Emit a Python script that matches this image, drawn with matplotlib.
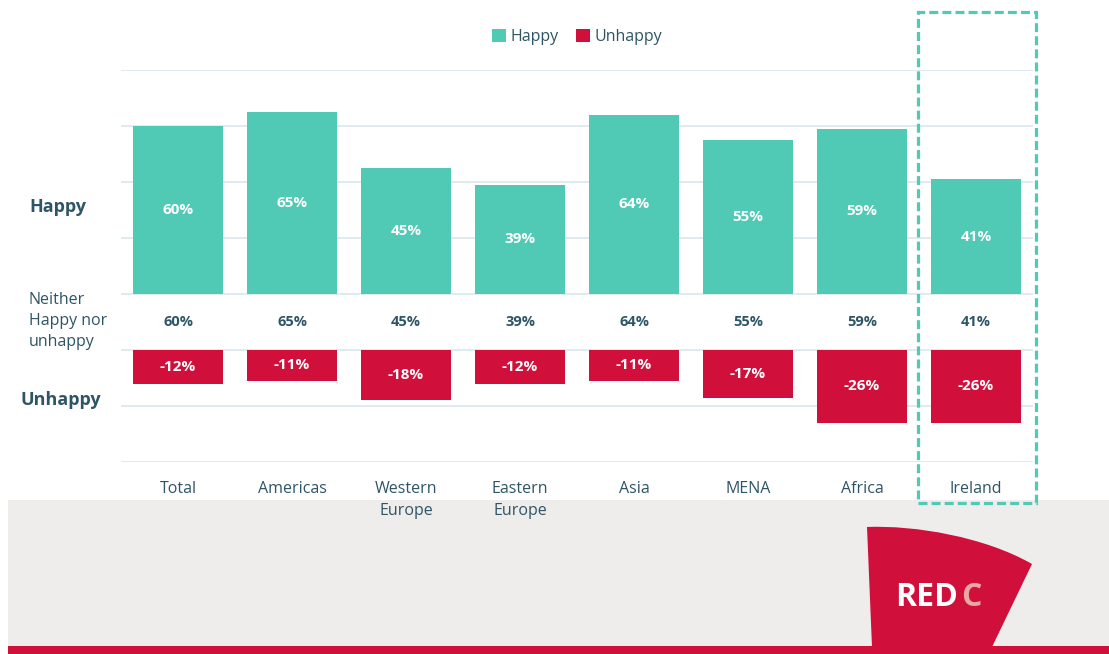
import matplotlib
matplotlib.use("Agg")
import matplotlib.pyplot as plt
from matplotlib.patches import Rectangle, PathPatch
from matplotlib.path import Path

categories = ["Total", "Americas", "Western\nEurope", "Eastern\nEurope", "Asia", "MENA", "Africa", "Ireland"]
happy = [60, 65, 45, 39, 64, 55, 59, 41]
unhappy = [-12, -11, -18, -12, -11, -17, -26, -26]
neither_labels = ["60%", "65%", "45%", "39%", "64%", "55%", "59%", "41%"]
gap = 20  # height of the "neither" band in chart units

TEAL = "#50C9B5"
RED = "#D0103A"
TXT = "#2E5566"
GRID = "#DDE9EF"
GRAYBAND = "#EFEDEC"

plt.rcParams['font.family'] = ['Open Sans', 'DejaVu Sans']

W, H = 1109, 654
fig = plt.figure(figsize=(W / 100, H / 100), dpi=100)

def fy(py):
    return (H - py) / H

def fp(px, py):
    return (px / W, (H - py) / H)

# background band and red strip (figure coords)
fig.patches.append(Rectangle((8 / W, 0), 1 - 8 / W, (654 - 500) / H, transform=fig.transFigure,
                             facecolor=GRAYBAND, edgecolor="none", zorder=-3))
fig.patches.append(Rectangle((8 / W, 0), 1 - 8 / W, (654 - 646) / H, transform=fig.transFigure,
                             facecolor=RED, edgecolor="none", zorder=-2))

# logo shape
verts = [fp(867, 527), fp(915, 525), fp(985, 537), fp(1032, 564), fp(992, 647), fp(872, 647), fp(867, 527)]
codes = [Path.MOVETO, Path.CURVE4, Path.CURVE4, Path.CURVE4, Path.LINETO, Path.LINETO, Path.CLOSEPOLY]
fig.patches.append(PathPatch(Path(verts, codes), transform=fig.transFigure, facecolor=RED,
                             edgecolor="none", zorder=-1))
fig.text(895 / W, fy(598), "RED", color="white", fontsize=23, fontweight="bold", ha="left", va="center",
         zorder=3)
fig.text(971 / W, fy(598), "C", color="#E9A7A3", fontsize=23, fontweight="bold", ha="center", va="center",
         zorder=3)

ax_l, ax_r, ax_t, ax_b = 121, 1033, 70, 462
ax = fig.add_axes([ax_l / W, (H - ax_b) / H, (ax_r - ax_l) / W, (ax_b - ax_t) / H])
ax.set_zorder(1)
ax.set_facecolor("none")
ax.set_xlim(-0.5, len(categories) - 0.5)
ax.set_ylim(-60, 80)
for s in ax.spines.values():
    s.set_visible(False)
ax.set_yticks([])
ax.set_xticks(range(len(categories)))
ax.set_xticklabels(categories, color=TXT, fontsize=11.5, linespacing=1.45)
ax.tick_params(axis="x", length=0, pad=14)

for g in [80, 60, 40, 20, 0, -20, -40, -60]:
    ax.axhline(g, color=GRID, lw=1.3, zorder=0)

x = list(range(len(categories)))
bw = 0.79
ax.bar(x, happy, width=bw, color=TEAL, zorder=2, label="Happy")
ax.bar(x, unhappy, width=bw, bottom=-gap, color=RED, zorder=2, label="Unhappy")

for i in x:
    ax.text(i, happy[i] / 2, f"{happy[i]}%", ha="center", va="center", color="white",
            fontsize=11, fontweight="bold", zorder=3)
    ax.text(i, -gap / 2, neither_labels[i], ha="center", va="center", color=TXT,
            fontsize=10.5, fontweight="bold", zorder=3)
    ax.text(i, -gap + unhappy[i] / 2, f"{unhappy[i]}%", ha="center", va="center", color="white",
            fontsize=11, fontweight="bold", zorder=3)

# highlight box around Ireland
ax.add_patch(Rectangle((6.49, -74.6), 7.53 - 6.49, 100.7 + 74.6, fill=False, edgecolor=TEAL,
                       lw=2.3, ls=(0, (2.8, 1.3)), clip_on=False, zorder=4))

# legend
leg = ax.legend(loc="center", bbox_to_anchor=(0.5, 1.0 + 33 / 392), ncol=2, frameon=False,
                fontsize=11.5, handlelength=0.85, handleheight=0.85, handletextpad=0.3, columnspacing=1.1)
for t in leg.get_texts():
    t.set_color(TXT)

# left-side row labels
fig.text(29 / W, fy(207), "Happy", color=TXT, fontsize=13, fontweight="bold", va="center", ha="left")
fig.text(29 / W, fy(321), "Neither\nHappy nor\nunhappy", color=TXT, fontsize=11.5, va="center", ha="left",
         linespacing=1.42)
fig.text(20 / W, fy(400), "Unhappy", color=TXT, fontsize=13, fontweight="bold", va="center", ha="left")

fig.savefig("out.png", dpi=100)
